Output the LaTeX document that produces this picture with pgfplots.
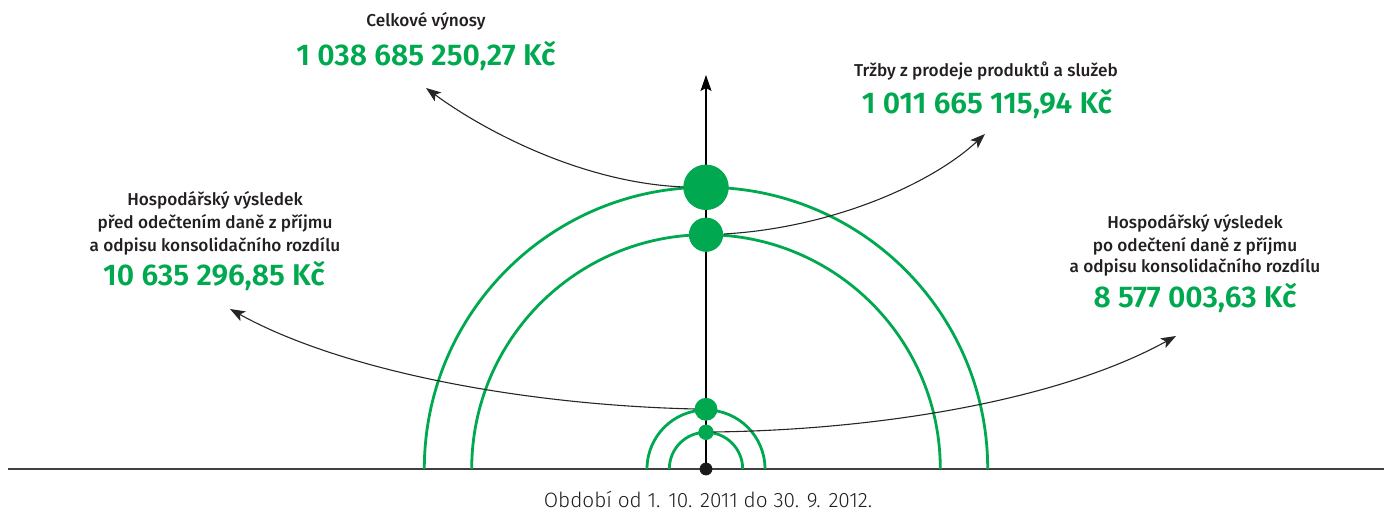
\documentclass[border=0pt]{standalone}
\usepackage{pgfplots}
\pgfplotsset{compat=1.18}
\usetikzlibrary{arrows.meta}
\usepackage{fontspec}
\setmainfont{Fira Sans}
\newfontfamily\labelfont{Fira Sans Medium}
\newfontfamily\numfont{Fira Sans SemiBold}
\newfontfamily\footfont{Fira Sans Light}
\definecolor{vgreen}{RGB}{0,169,79}
\definecolor{lblgray}{RGB}{35,31,32}
\definecolor{footgray}{RGB}{30,30,30}
\begin{document}
\begin{tikzpicture}[
  lbl/.style={font=\labelfont\fontsize{8.6}{10}\selectfont, text=lblgray, inner sep=0pt, text height=6.2pt, text depth=0pt, anchor=center},
  num/.style={font=\numfont\fontsize{15}{17}\selectfont, text=vgreen, inner sep=0pt, text height=10.4pt, text depth=0pt, anchor=center},
  curv/.style={draw=black!85, line width=0.55pt, -{Stealth[length=7.5pt,width=5.5pt,inset=1.8pt]}}
]
\begin{axis}[name=ax, width=696pt, height=256pt, scale only axis,
  xmin=0, xmax=1392, ymin=0, ymax=512, hide axis, clip=false]
% baseline
\draw[black!75, line width=0.6pt] (axis cs:8,43) -- (axis cs:1384,43);
% semicircles
\draw[vgreen, line width=1.4pt] (axis cs:987.7,43) arc[start angle=0, end angle=180, radius=140.85pt];
\draw[vgreen, line width=1.4pt] (axis cs:940.3,43) arc[start angle=0, end angle=180, radius=117.15pt];
\draw[vgreen, line width=1.4pt] (axis cs:765,43) arc[start angle=0, end angle=180, radius=29.5pt];
\draw[vgreen, line width=1.4pt] (axis cs:742.7,43) arc[start angle=0, end angle=180, radius=18.35pt];
% vertical arrow
\draw[black, line width=0.55pt, -{Stealth[length=8pt,width=5.5pt,inset=1.5pt]}] (axis cs:706,43) -- (axis cs:706,437);
% curved arrows
\draw[curv] (axis cs:684,325) .. controls (axis cs:580,329) and (axis cs:480,384) .. (axis cs:426,424);
\draw[curv] (axis cs:724,278) .. controls (axis cs:830,284) and (axis cs:930,327) .. (axis cs:985,378);
\draw[curv] (axis cs:695,103) .. controls (axis cs:520,107) and (axis cs:340,142) .. (axis cs:230,203);
\draw[curv] (axis cs:713,80) .. controls (axis cs:880,82) and (axis cs:1060,112) .. (axis cs:1176,176);
% dots
\addplot[only marks, mark=*, mark size=11.15pt, color=vgreen] coordinates {(706,324.7)};
\addplot[only marks, mark=*, mark size=8.35pt, color=vgreen] coordinates {(706,277.3)};
\addplot[only marks, mark=*, mark size=5.5pt, color=vgreen] coordinates {(706,102.7)};
\addplot[only marks, mark=*, mark size=3.65pt, color=vgreen] coordinates {(706,79.7)};
\addplot[only marks, mark=*, mark size=3pt, color=black!90] coordinates {(706,43)};
% labels
\node[lbl] at (axis cs:426,492) {Celkové výnosy};
\node[num] at (axis cs:426,457) {1 038 685 250,27 Kč};
\node[lbl] at (axis cs:986,442) {Tržby z prodeje produktů a služeb};
\node[num] at (axis cs:987,409) {1 011 665 115,94 Kč};
\node[lbl] at (axis cs:215,313) {Hospodářský výsledek};
\node[lbl] at (axis cs:215,290) {před odečtením daně z příjmu};
\node[lbl] at (axis cs:215,267) {a odpisu konsolidačního rozdílu};
\node[num] at (axis cs:214,237) {10 635 296,85 Kč};
\node[lbl] at (axis cs:1195,290) {Hospodářský výsledek};
\node[lbl] at (axis cs:1195,267) {po odečtení daně z příjmu};
\node[lbl] at (axis cs:1195,246) {a odpisu konsolidačního rozdílu};
\node[num] at (axis cs:1195,215) {8 577 003,63 Kč};
\node[font=\footfont\fontsize{10.4}{12}\selectfont, text=footgray, inner sep=0pt, text height=7.2pt, text depth=0pt, anchor=center] at (axis cs:708,12) {Období od 1. 10. 2011 do 30. 9. 2012.};
\end{axis}
\pgfresetboundingbox
\path[use as bounding box] (ax.south west) rectangle (ax.north east);
\end{tikzpicture}
\end{document}
